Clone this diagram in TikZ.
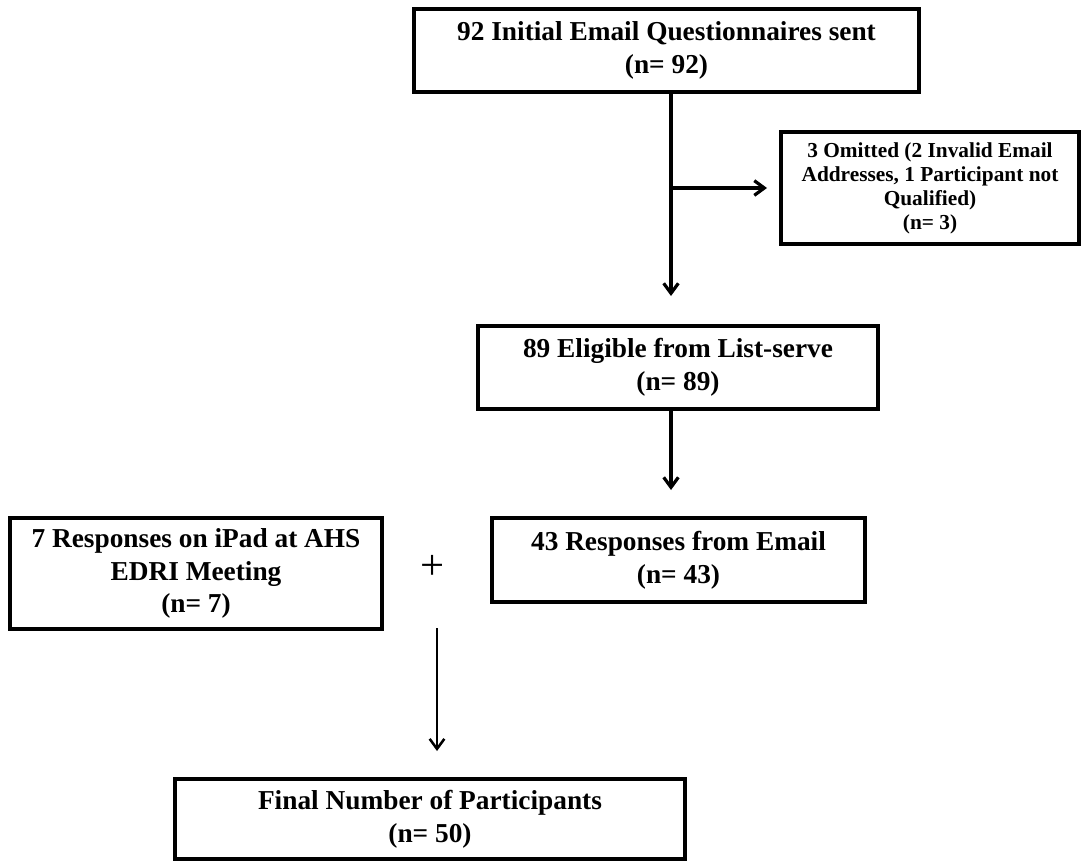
\documentclass[tikz,border=0pt]{standalone}
\usepackage{fontspec}
\setmainfont{Liberation Serif}
\usetikzlibrary{arrows.meta}
\begin{document}
\begin{tikzpicture}[x=0.75pt,y=-0.75pt,
  box/.style={draw=black,line width=2.4pt,rectangle,inner sep=0pt,outer sep=0pt,align=center,
    font=\fontsize{20.5pt}{24.5pt}\selectfont\bfseries},
  smallbox/.style={box,font=\fontsize{16pt}{18pt}\selectfont\bfseries},
  arr/.style={line width=2.4pt,-{Straight Barb[length=7.5pt,width=11pt,line width=2.4pt]}},
  thinarr/.style={line width=1.9pt,-{Straight Barb[length=7.5pt,width=11pt,line width=1.9pt]}}]
\useasboundingbox (0,0) rectangle (1081,861);
\node[box,minimum width=505*0.75pt,minimum height=83*0.75pt] (b1) at (666.5,50.5)
  {92 Initial Email Questionnaires sent\\(n= 92)};
\node[smallbox,minimum width=298*0.75pt,minimum height=112*0.75pt] (om) at (930,188)
  {3 Omitted (2 Invalid Email\\Addresses, 1 Participant not\\Qualified)\\(n= 3)};
\node[box,minimum width=400*0.75pt,minimum height=83*0.75pt] (b89) at (678,367.5)
  {89 Eligible from List-serve\\(n= 89)};
\node[box,minimum width=373*0.75pt,minimum height=84*0.75pt] (b43) at (678.5,560)
  {43 Responses from Email\\(n= 43)};
\node[box,minimum width=372*0.75pt,minimum height=111*0.75pt] (b7) at (196,573.5)
  {7 Responses on iPad at AHS\\EDRI Meeting\\(n= 7)};
\node[font=\fontsize{32pt}{32pt}\selectfont,inner sep=0pt] (plus) at (433,567) {+};
\node[box,minimum width=510*0.75pt,minimum height=80*0.75pt] (fin) at (430,819)
  {Final Number of Participants\\(n= 50)};
\coordinate (j) at (671,188);
\coordinate (k) at (437,628);
\draw[line width=2.4pt] (b1.south -| j) -- (j);
\draw[arr,shorten >=22.5pt] (j) -- (b89.north -| j);
\draw[arr,shorten >=10.5pt] (j) -- (om.west);
\draw[arr,shorten >=21pt] (b89.south -| j) -- (b43.north -| j);
\draw[thinarr,shorten >=21pt] (k) -- (fin.north -| k);
\end{tikzpicture}
\end{document}
